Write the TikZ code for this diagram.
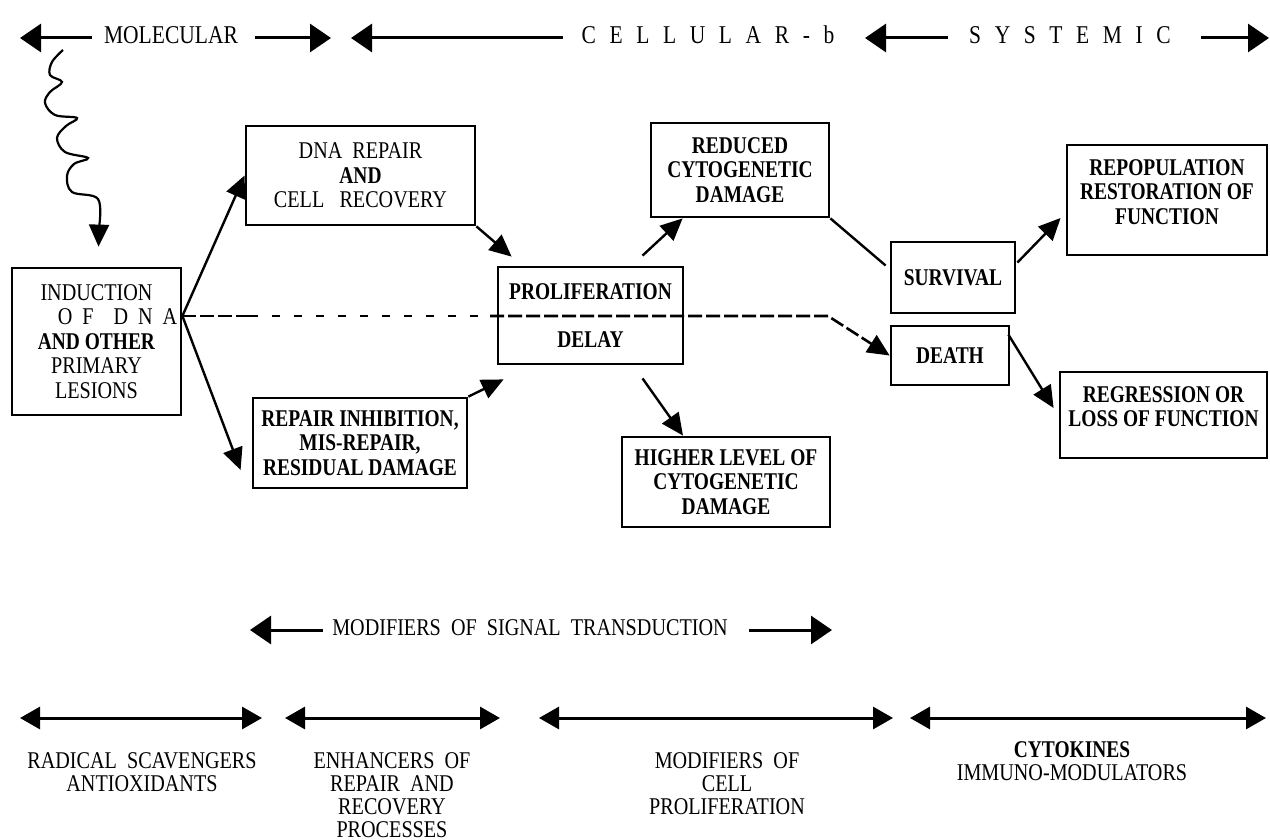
\documentclass[tikz,border=0pt]{standalone}
\usepackage{fontspec}
\setmainfont{Liberation Serif}[FakeStretch=0.84,BoldFeatures={FakeStretch=0.81}]
\usetikzlibrary{arrows.meta,calc}
\newcommand{\lettergap}{\hspace{6.8pt}}

\begin{document}
\begin{tikzpicture}[x=0.5pt,y=-0.5pt,
	font=\fontsize{12}{12.25}\selectfont,
	box/.style={draw,line width=1.4pt,align=center,inner sep=1pt},
	boldbox/.style={box,font=\fontsize{12}{12.25}\selectfont\bfseries},
	level/.style={anchor=base,font=\fontsize{12.8}{13}\selectfont},
	agent/.style={align=center,font=\fontsize{12}{11.5}\selectfont},
	link/.style={line width=1.2pt,-{Triangle[length=11pt,width=10pt]}},
	plain/.style={line width=1.2pt},
	scalearrow/.style={line width=1.5pt,-{Triangle[length=10.5pt,width=14pt]}},
	span/.style={line width=1.5pt,{Triangle[length=10pt,width=11pt]}-{Triangle[length=10pt,width=11pt]}},
	thickdash/.style={line width=1.3pt,dash pattern=on 7pt off 2pt},
	thindash/.style={line width=0.6pt,dash pattern=on 4pt off 7pt}]

\useasboundingbox (0,0) rectangle (1270,840);

% levels of organisation
\node[level] (mol) at (171,44) {MOLECULAR};
\node[level] (cel) at (708,44) {C\lettergap E\lettergap L\lettergap L\lettergap U\lettergap L\lettergap A\lettergap R\lettergap -\lettergap b};
\node[level] (sys) at (1070,44) {S\lettergap Y\lettergap S\lettergap T\lettergap E\lettergap M\lettergap I\lettergap C};
\coordinate (molL) at (20,38);
\coordinate (molR) at (331,38);
\coordinate (celL) at (351,38);
\coordinate (sysL) at (865,38);
\coordinate (sysR) at (1269,38);
\draw[scalearrow] ($(mol.west |- molL)+(-5,0)$) -- (molL);
\draw[scalearrow] ($(mol.east |- molR)+(10,0)$) -- (molR);
\draw[scalearrow] ($(cel.west |- celL)+(-12,0)$) -- (celL);
\draw[scalearrow] ($(sys.west |- sysL)+(-14,0)$) -- (sysL);
\draw[scalearrow] ($(sys.east |- sysR)+(23,0)$) -- (sysR);

% lesions and their fate
\node[box,minimum width=84.5pt,minimum height=73.5pt] (ind) at (96.5,341.5)
	{INDUCTION\\\hspace*{21pt}O\hspace{5pt}F\hspace{10pt}D\hspace{5pt}N\hspace{5pt}A\\\textbf{AND OTHER}\\PRIMARY\\LESIONS};
\node[box,minimum width=114.5pt,minimum height=49.5pt] (dna) at (360.5,175.5)
	{DNA\ \ REPAIR\\\textbf{AND}\\CELL\ \ \ RECOVERY};
\node[boldbox,minimum width=107pt,minimum height=45pt] (inh) at (360,443)
	{REPAIR INHIBITION,\\MIS-REPAIR,\\RESIDUAL DAMAGE};
\node[boldbox,minimum width=92.5pt,minimum height=48.5pt] (pro) at (590.5,315.5)
	{PROLIFERATION\\[11.5pt]DELAY};
\node[boldbox,minimum width=89pt,minimum height=47pt] (red) at (740,170)
	{REDUCED\\CYTOGENETIC\\DAMAGE};
\node[boldbox,minimum width=104pt,minimum height=45pt] (hig) at (726,482)
	{HIGHER LEVEL OF\\CYTOGENETIC\\DAMAGE};
\node[boldbox,minimum width=62pt,minimum height=35.5pt] (sur) at (953,277.5) {SURVIVAL};
\node[boldbox,minimum width=59pt,minimum height=29.5pt] (dea) at (950,355.5) {DEATH};
\node[boldbox,minimum width=100pt,minimum height=55pt] (rep) at (1167,200)
	{REPOPULATION\\RESTORATION OF\\FUNCTION\\[-4pt]\mbox{}};
\node[boldbox,inner sep=0pt,minimum width=103.5pt,minimum height=43pt] (reg) at (1163.5,415)
	{REGRESSION OR\\LOSS OF FUNCTION\\[-4pt]\mbox{}};

% radiation hit
\draw[link,line width=1.1pt] plot[smooth,tension=0.6] coordinates {(63,50) (52,62) (50,75) (62,82) (50,92) (45,103) (55,115) (77,118) (66,126) (57,138) (65,152) (88,158) (74,164) (67,176) (72,192) (98,199) (99,228)}
	-- ($(ind.north)+(2,-20)$);

% pathways
\coordinate (d1) at (250,316);
\coordinate (d2) at (490,316);
\coordinate (d3) at (828,316);
\coordinate (fork) at (ind.east |- d1);
\draw[link] (fork) -- (dna.west);
\draw[link] (fork) -- ($(inh.west)+(-11,27)$);
\draw[link] (dna.south east) -- ($(pro.north west)+(15,-9)$);
\draw[link] (inh.north east) -- ($(pro.south west)+(7,14)$);
\draw[link] ($(pro.north)+(52,-10)$) -- ($(red.south west)+(33,0)$);
\draw[link] ($(pro.south)+(52,13)$) -- ($(hig.north)+(-43,0)$);
\draw[plain] (red.south east) -- ($(sur.west)+(-4,-12)$);
\draw[link] ($(sur.east)+(1,-15)$) -- ($(rep.west)+(-5,18)$);
\draw[link] ($(dea.north east)+(-2,10)$) -- ($(reg.west)+(-5,-7)$);

% direct route to death
\draw[thickdash] (fork) -- (d1);
\draw[thindash] (d1) -- (d2);
\draw[thickdash,-{Triangle[length=11pt,width=10pt]}] (d2) -- (d3) -- (dea.west);

% modifiers
\node (sig) at (530,628) {MODIFIERS\ \ OF\ \ SIGNAL\ \ TRANSDUCTION};
\coordinate (sigL) at (250,630);
\coordinate (sigR) at (832,630);
\draw[scalearrow] ($(sig.west |- sigL)+(-2,0)$) -- (sigL);
\draw[scalearrow] ($(sig.east |- sigR)+(14,0)$) -- (sigR);

\coordinate (s1a) at (20,718);
\coordinate (s1b) at (262,718);
\coordinate (s2a) at (285,718);
\coordinate (s2b) at (500,718);
\coordinate (s3a) at (539,718);
\coordinate (s3b) at (893,718);
\coordinate (s4a) at (910,718);
\coordinate (s4b) at (1266,718);
\draw[span] (s1a) -- (s1b);
\draw[span] (s2a) -- (s2b);
\draw[span] (s3a) -- (s3b);
\draw[span] (s4a) -- (s4b);

\node[agent] (rad) at (142,772) {RADICAL\ \ SCAVENGERS\\ANTIOXIDANTS};
\node[agent] (enh) at (392,795) {ENHANCERS\ \ OF\\REPAIR\ \ AND\\RECOVERY\\PROCESSES};
\node[agent] (mcp) at (727,784) {MODIFIERS\ \ OF\\CELL\\PROLIFERATION};
\node[agent] (cyt) at (1072,761) {\textbf{CYTOKINES}\\IMMUNO-MODULATORS};

\end{tikzpicture}
\end{document}
